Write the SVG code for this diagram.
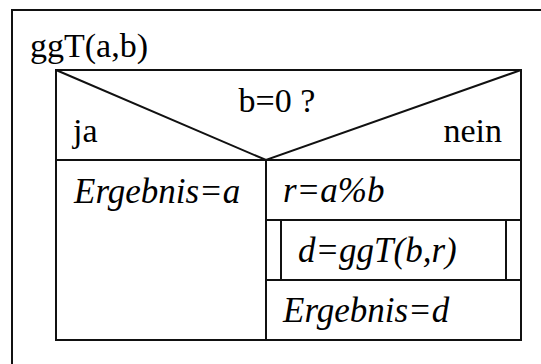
<svg xmlns="http://www.w3.org/2000/svg" width="541" height="364" viewBox="0 0 541 364">
<style>
.ln{fill:none;stroke:#111;stroke-width:2}
.t{font-family:"Liberation Serif","Times New Roman",serif;font-size:34px;fill:#000}
.i{font-style:italic;font-size:35px}
</style>
<rect width="541" height="364" fill="#fff"/>
<g id="frame">
<path class="ln" d="M12,370 V10 H545"/>
<text class="t" x="30" y="57">ggT(a,b)</text>
</g>
<g id="decision">
<rect class="ln" x="56" y="70" width="465" height="270"/>
<path class="ln" d="M56,70 L266,160 L521,70"/>
<line class="ln" x1="56" y1="160" x2="521" y2="160"/>
<text class="t" x="277" y="112" text-anchor="middle">b=0 ?</text>
<text class="t" x="73" y="142">ja</text>
<text class="t" x="502" y="142" text-anchor="end">nein</text>
</g>
<g id="yes-branch">
<line class="ln" x1="266" y1="160" x2="266" y2="340"/>
<text class="t i" x="74" y="203">Ergebnis=a</text>
</g>
<g id="assign-r">
<line class="ln" x1="266" y1="220" x2="521" y2="220"/>
<text class="t i" x="283" y="202">r=a%b</text>
</g>
<g id="call-ggT">
<line class="ln" x1="266" y1="280" x2="521" y2="280"/>
<line class="ln" x1="281" y1="220" x2="281" y2="280"/>
<line class="ln" x1="506" y1="220" x2="506" y2="280"/>
<text class="t i" x="298" y="262">d=ggT(b,r)</text>
</g>
<g id="result-d">
<text class="t i" x="283" y="322">Ergebnis=d</text>
</g>
</svg>
